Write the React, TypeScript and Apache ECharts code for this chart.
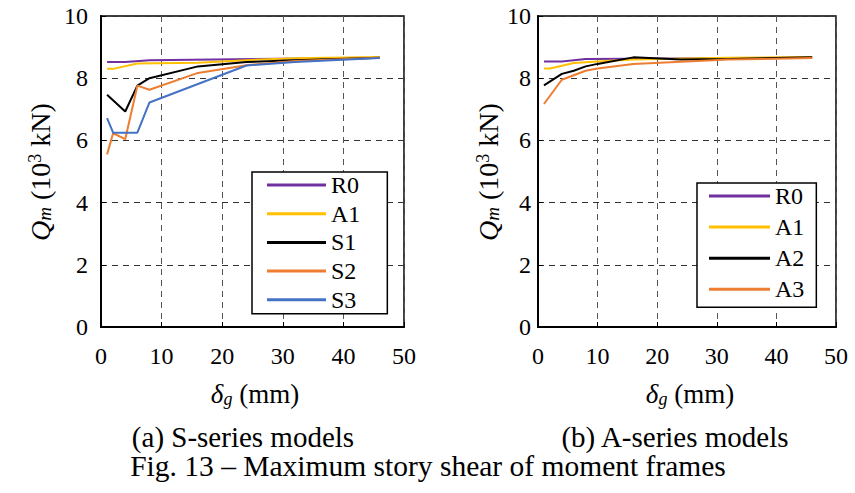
import React, { useEffect, useRef } from "react";
import * as echarts from "echarts";

const FONT = "Liberation Serif, Times New Roman, serif";

const xTicks = [0, 10, 20, 30, 40, 50];
const yTicks = [0, 2, 4, 6, 8, 10];

// (a) S-series models: [δg (mm), Qm (10^3 kN)]
const aR0: number[][] = [[1, 8.52], [4, 8.52], [8, 8.58], [46, 8.66]];
const aA1: number[][] = [[1, 8.3], [2, 8.3], [6, 8.47], [16, 8.5], [24, 8.58], [32, 8.64], [46, 8.68]];
const aS1: number[][] = [[1, 7.47], [4, 6.93], [6, 7.76], [8, 8.0], [16, 8.38], [24, 8.52], [32, 8.58], [46, 8.66]];
const aS2: number[][] = [[1, 5.55], [2, 6.23], [4, 6.04], [6, 7.76], [8, 7.63], [16, 8.17], [24, 8.42], [32, 8.55], [46, 8.66]];
const aS3: number[][] = [[1, 6.72], [2, 6.25], [6, 6.25], [8, 7.22], [24, 8.41], [32, 8.52], [46, 8.65]];

// (b) A-series models
const bR0: number[][] = [[1, 8.54], [4, 8.54], [8, 8.62], [46, 8.66]];
const bA1: number[][] = [[1, 8.31], [2, 8.31], [6, 8.49], [10, 8.54], [16, 8.6], [32, 8.66], [46, 8.68]];
const bA2: number[][] = [[1, 7.77], [4, 8.14], [6, 8.24], [8, 8.38], [10, 8.46], [16, 8.67], [24, 8.6], [32, 8.62], [46, 8.67]];
const bA3: number[][] = [[1, 7.17], [4, 7.95], [8, 8.24], [10, 8.31], [16, 8.46], [24, 8.53], [32, 8.6], [46, 8.65]];

const legendA = ["R0", "A1", "S1", "S2", "S3"];
const legendB = ["R0", "A1", "A2", "A3"];

const COLORS: Record<string, string> = {
  R0: "#7030A0",
  A1: "#FFC000",
  S1: "#000000",
  S2: "#ED7D31",
  S3: "#4472C4",
  A2: "#000000",
  A3: "#ED7D31",
};

function xAxisCfg(gridIndex: number) {
  return {
    gridIndex,
    type: "value",
    min: xTicks[0],
    max: xTicks[xTicks.length - 1],
    interval: 10,
    axisLine: { show: true, onZero: false, lineStyle: { color: "#000", width: 2 } },
    axisTick: { show: true, inside: true, length: 5, lineStyle: { color: "#000", width: 1 } },
    axisLabel: { fontFamily: FONT, fontSize: 24, color: "#000", margin: 17 },
    splitLine: { show: true, lineStyle: { color: "#555", type: [6, 5], width: 1 } },
  };
}

function yAxisCfg(gridIndex: number, margin: number) {
  return {
    gridIndex,
    type: "value",
    min: yTicks[0],
    max: yTicks[yTicks.length - 1],
    interval: 2,
    axisLine: { show: true, onZero: false, lineStyle: { color: "#000", width: 2 } },
    axisTick: { show: true, inside: true, length: 5, lineStyle: { color: "#000", width: 1 } },
    axisLabel: { fontFamily: FONT, fontSize: 24, color: "#000", margin },
    splitLine: { show: true, lineStyle: { color: "#333", type: [6, 5], width: 1 } },
  };
}

function line(name: string, data: number[][], idx: number) {
  return {
    name,
    type: "line",
    xAxisIndex: idx,
    yAxisIndex: idx,
    data,
    symbol: "none",
    showSymbol: false,
    smooth: false,
    lineStyle: { color: COLORS[name], width: 2 },
    itemStyle: { color: COLORS[name] },
    z: 3,
  };
}

const yTitleRich = {
  q: { fontFamily: FONT, fontStyle: "italic", fontSize: 28, lineHeight: 28, color: "#000" },
  sub: { fontFamily: FONT, fontStyle: "italic", fontSize: 19, lineHeight: 8, verticalAlign: "bottom", color: "#000" },
  n: { fontFamily: FONT, fontSize: 28, lineHeight: 28, color: "#000" },
  sup: { fontFamily: FONT, fontSize: 18, lineHeight: 10, verticalAlign: "top", color: "#000" },
};

const xTitleRich = {
  d: { fontFamily: FONT, fontStyle: "italic", fontSize: 27, lineHeight: 27, color: "#000" },
  sub: { fontFamily: FONT, fontStyle: "italic", fontSize: 18, lineHeight: 8, verticalAlign: "bottom", color: "#000" },
  n: { fontFamily: FONT, fontSize: 27, lineHeight: 27, color: "#000" },
};

function yTitle(x: number, y: number) {
  return {
    type: "text",
    x,
    y,
    rotation: Math.PI / 2,
    style: {
      text: "{q|Q}{sub|m}{n| (10}{sup|3}{n| kN)}",
      rich: yTitleRich,
      fontFamily: FONT,
      align: "center",
      verticalAlign: "middle",
    },
  };
}

function xTitle(x: number, y: number) {
  return {
    type: "text",
    x,
    y,
    style: {
      text: "{d|δ}{sub|g}{n| (mm)}",
      rich: xTitleRich,
      fontFamily: FONT,
      align: "center",
      verticalAlign: "middle",
    },
  };
}

function plainText(text: string, x: number, y: number, size: number) {
  return {
    type: "text",
    x,
    y,
    style: {
      text,
      fontFamily: FONT,
      fontSize: size,
      fill: "#000",
      align: "center",
      verticalAlign: "middle",
    },
  };
}

export default function App() {
  const ref = useRef<HTMLDivElement>(null);

  useEffect(() => {
    if (!ref.current) return;
    const chart = echarts.init(ref.current, null, { renderer: "svg" });
    const option: any = {
      animation: false,
      backgroundColor: "#fff",
      textStyle: { fontFamily: FONT, color: "#000" },
      grid: [
        { left: 101, top: 16, width: 303, height: 311, show: true, borderColor: "#000", borderWidth: 1.5, backgroundColor: "transparent" },
        { left: 538, top: 16, width: 298, height: 311, show: true, borderColor: "#000", borderWidth: 1.5, backgroundColor: "transparent" },
      ],
      xAxis: [xAxisCfg(0), xAxisCfg(1)],
      yAxis: [yAxisCfg(0, 13), yAxisCfg(1, 7)],
      legend: [
        {
          data: legendA,
          orient: "vertical",
          left: 252,
          top: 172,
          icon: "rect",
          itemWidth: 59,
          itemHeight: 3,
          itemGap: 4.7,
          padding: [1, 27, 2, 15],
          backgroundColor: "#fff",
          borderColor: "#000",
          borderWidth: 1.5,
          textStyle: { fontFamily: FONT, fontSize: 24, lineHeight: 22, color: "#000" },
          selectedMode: false,
          z: 10,
        },
        {
          data: legendB,
          orient: "vertical",
          left: 697,
          top: 183,
          icon: "rect",
          itemWidth: 61,
          itemHeight: 3,
          itemGap: 7.1,
          padding: [1, 12, 6, 12],
          backgroundColor: "#fff",
          borderColor: "#000",
          borderWidth: 1.5,
          textStyle: { fontFamily: FONT, fontSize: 24, lineHeight: 22, color: "#000" },
          selectedMode: false,
          z: 10,
        },
      ],
      series: [
        line("R0", aR0, 0),
        line("A1", aA1, 0),
        line("S1", aS1, 0),
        line("S2", aS2, 0),
        line("S3", aS3, 0),
        line("R0", bR0, 1),
        line("A1", bA1, 1),
        line("A2", bA2, 1),
        line("A3", bA3, 1),
      ],
      graphic: [
        yTitle(40, 172),
        yTitle(488, 172),
        xTitle(255, 394),
        xTitle(690, 394),
        plainText("(a) S-series models", 243, 437, 29),
        plainText("(b) A-series models", 675, 437, 29),
        plainText("Fig. 13 \u2013 Maximum story shear of moment frames", 428, 466, 29.5),
      ],
    };
    chart.setOption(option);
    return () => chart.dispose();
  }, []);

  return (
    <div
      ref={ref}
      style={{ position: "absolute", left: 0, top: 0, width: 855, height: 493 }}
    />
  );
}
